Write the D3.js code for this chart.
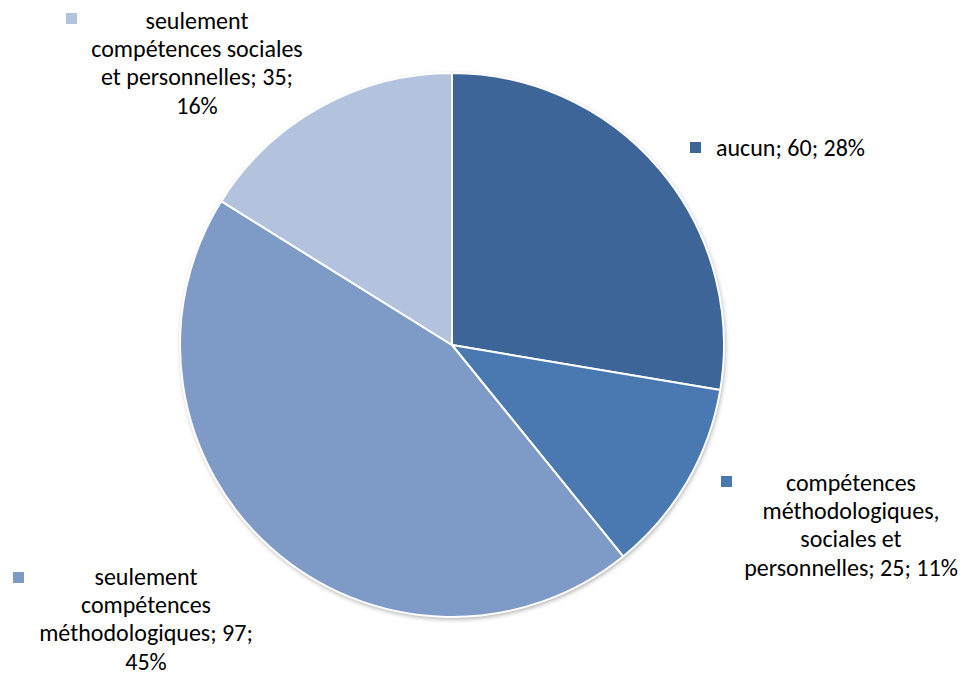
<!DOCTYPE html>
<html>
<head>
<meta charset="utf-8">
<script src="https://cdn.jsdelivr.net/npm/d3@7"></script>
<style>
  html, body { margin: 0; padding: 0; background: #fff; }
  svg { display: block; }
  text { font-family: Carlito, Calibri, Lato, "Liberation Sans", sans-serif; fill: #000; }
</style>
</head>
<body>
<svg id="chart" width="963" height="677"></svg>
<script>
// Slice names, counts and shares (clockwise from 12 o'clock)
const categories = [
  "aucun",
  "compétences méthodologiques, sociales et personnelles",
  "seulement compétences méthodologiques",
  "seulement compétences sociales et personnelles"
];
const values = [60, 25, 97, 35];
const percents = ["28%", "11%", "45%", "16%"];
const colors = ["#3d6597", "#4a78b0", "#7e9bc7", "#b4c3dd"];

// Label lines as they wrap next to each slice
const labelLines = [
  ["aucun; 60; 28%"],
  ["compétences", "méthodologiques,", "sociales et", "personnelles; 25; 11%"],
  ["seulement", "compétences", "méthodologiques; 97;", "45%"],
  ["seulement", "compétences sociales", "et personnelles; 35;", "16%"]
];

const svg = d3.select("#chart");
const cx = 452, cy = 345, r = 272;

const defs = svg.append("defs");
const f = defs.append("filter").attr("id", "shadow")
  .attr("x", "-10%").attr("y", "-10%").attr("width", "120%").attr("height", "120%");
f.append("feGaussianBlur").attr("in", "SourceAlpha").attr("stdDeviation", 2.5);
f.append("feOffset").attr("dx", 1).attr("dy", 2).attr("result", "b");
f.append("feComponentTransfer").append("feFuncA").attr("type", "linear").attr("slope", 0.35);
const m = f.append("feMerge");
m.append("feMergeNode");
m.append("feMergeNode").attr("in", "SourceGraphic");

const pie = d3.pie().sort(null).value(d => d)(values);
const arc = d3.arc().innerRadius(0).outerRadius(r);

const g = svg.append("g").attr("transform", `translate(${cx},${cy})`);
g.append("circle").attr("r", r).attr("fill", "#fff").attr("filter", "url(#shadow)");
g.selectAll("path.slice")
  .data(pie)
  .join("path")
  .attr("class", "slice")
  .attr("d", arc)
  .attr("fill", (d, i) => colors[i])
  .attr("stroke", "#fff")
  .attr("stroke-width", 2)
  .attr("stroke-linejoin", "round");

// Label placement: marker box, text anchor and first baseline
const labelPos = [
  { mx: 690, my: 142, tx: 716, ty: 156, anchor: "start" },
  { mx: 721, my: 476, tx: 851, ty: 491, anchor: "middle" },
  { mx: 13,  my: 572, tx: 146, ty: 585, anchor: "middle" },
  { mx: 66,  my: 13,  tx: 197, ty: 29,  anchor: "middle" }
];
const lineH = 28.2;

const labels = svg.append("g").selectAll("g")
  .data(pie)
  .join("g");

labels.append("rect")
  .attr("x", (d, i) => labelPos[i].mx)
  .attr("y", (d, i) => labelPos[i].my)
  .attr("width", 11).attr("height", 11)
  .attr("fill", (d, i) => colors[i]);

labels.append("text")
  .attr("font-size", 24)
  .attr("text-anchor", (d, i) => labelPos[i].anchor)
  .each(function(d, i) {
    const t = d3.select(this);
    labelLines[i].forEach((line, k) => {
      t.append("tspan")
        .attr("x", labelPos[i].tx)
        .attr("y", labelPos[i].ty + k * lineH)
        .text(line);
    });
  });
</script>
</body>
</html>
